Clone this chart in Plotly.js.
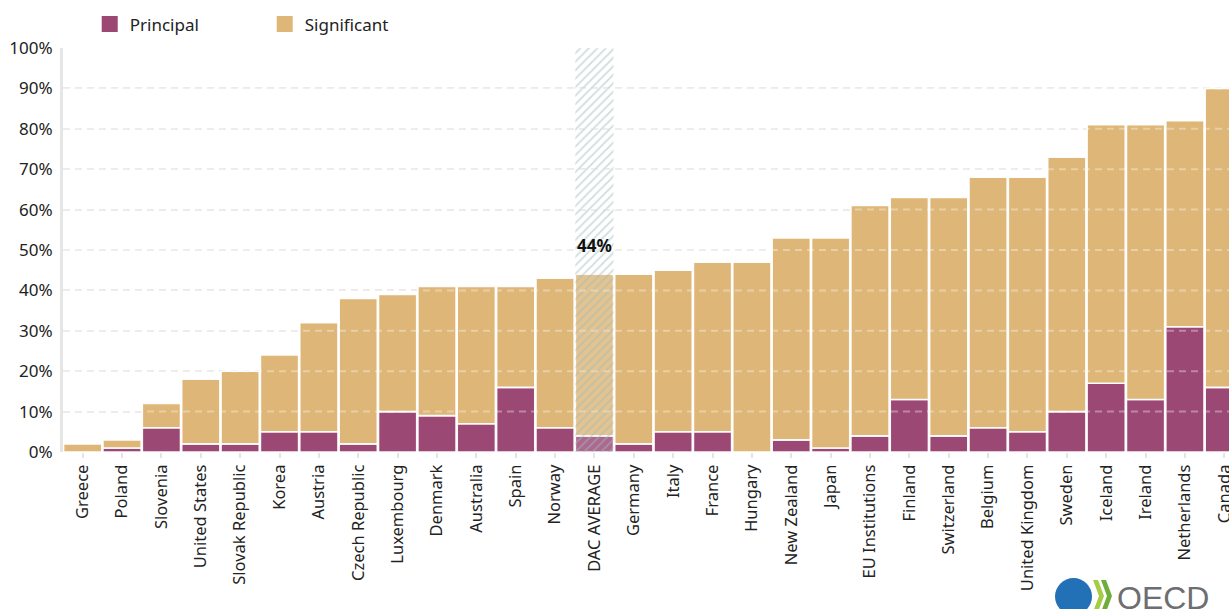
<!DOCTYPE html>
<html>
<head>
<meta charset="utf-8">
<script src="https://cdn.plot.ly/plotly-3.0.1.min.js"></script>
<style>
html,body{margin:0;padding:0;background:#fff;}
#chart{width:1229px;height:609px;}
</style>
</head>
<body>
<div id="chart"></div>
<script>
const categories = ["Greece","Poland","Slovenia","United States","Slovak Republic","Korea","Austria","Czech Republic","Luxembourg","Denmark","Australia","Spain","Norway","DAC AVERAGE","Germany","Italy","France","Hungary","New Zealand","Japan","EU Institutions","Finland","Switzerland","Belgium","United Kingdom","Sweden","Iceland","Ireland","Netherlands","Canada"];
const principal = [0,1,6,2,2,5,5,2,10,9,7,16,6,4,2,5,5,0,3,1,4,13,4,6,5,10,17,13,31,16];
const significant = [2,2,6,16,18,19,27,36,29,32,34,25,37,40,42,40,42,47,50,52,57,50,59,62,63,63,64,68,51,74];
const highlightCategory = "DAC AVERAGE";
const highlightLabel = "44%";
const highlightSpan = [100];
const yTicks = [0,10,20,30,40,50,60,70,80,90,100];
const yTickLabels = ["0%","10%","20%","30%","40%","50%","60%","70%","80%","90%","100%"];

const FONT = "'Noto Sans', Lato, sans-serif";
const PURPLE = "#9b4875";
const TAN = "#deb677";
const opac = categories.map(c => c === highlightCategory ? 0.82 : 1);

const traces = [
  {
    type: "bar", name: "Principal", x: categories, y: principal, showlegend: false, legendgroup: "p",
    marker: {color: PURPLE, opacity: opac, line: {color: "rgba(255,255,255,0.95)", width: 1.6}},
    hoverinfo: "x+y"
  },
  {
    type: "bar", name: "Significant", x: categories, y: significant, base: principal, showlegend: false, legendgroup: "s",
    marker: {color: TAN, opacity: opac, line: {color: "rgba(255,255,255,0.95)", width: 1.6}},
    hoverinfo: "x+y"
  },
  {
    type: "bar", name: "hatch", x: [highlightCategory], y: highlightSpan, showlegend: false,
    hoverinfo: "skip",
    marker: {color: "rgba(0,0,0,0)", line: {width: 0},
      pattern: {shape: "/", fgcolor: "#9ebcbc", bgcolor: "rgba(0,0,0,0)", size: 6, solidity: 0.3, fillmode: "overlay"}}
  },
  {
    type: "scatter", mode: "markers", name: "Principal", x: [null], y: [null], legendgroup: "p",
    marker: {symbol: "square", size: 18, color: PURPLE}, hoverinfo: "skip"
  },
  {
    type: "scatter", mode: "markers", name: "Significant", x: [null], y: [null], legendgroup: "s",
    marker: {symbol: "square", size: 18, color: TAN}, hoverinfo: "skip"
  }
];

const shapes = yTicks.filter(v => v > 0).map(v => ({
  type: "line", xref: "paper", yref: "y", x0: 0, x1: 1, y0: v, y1: v,
  layer: "above", line: {color: "rgba(255,255,255,0.35)", width: 2, dash: "7px,5px"}
}));
// OECD logo: globe + chevrons
shapes.push({
  type: "circle", xref: "paper", yref: "paper", xsizemode: "pixel", ysizemode: "pixel",
  xanchor: (1073.5-63)/1166, yanchor: (452-596.5)/404, x0: -18.5, x1: 18.5, y0: -18.5, y1: 18.5,
  fillcolor: "#2270b5", line: {width: 0}, layer: "above"
});
shapes.push({
  type: "path", xref: "paper", yref: "paper", xsizemode: "pixel", ysizemode: "pixel",
  xanchor: (1093-63)/1166, yanchor: (452-609)/404,
  path: "M0,29 L5,29 L11,13 L5,-3 L0,-3 L6,13 Z",
  fillcolor: "#a5cc45", line: {width: 0}, layer: "above"
});
shapes.push({
  type: "path", xref: "paper", yref: "paper", xsizemode: "pixel", ysizemode: "pixel",
  xanchor: (1093-63)/1166, yanchor: (452-609)/404,
  path: "M8,29 L13,29 L19,13 L13,-3 L8,-3 L14,13 Z",
  fillcolor: "#6fae3a", line: {width: 0}, layer: "above"
});

const layout = {
  width: 1229, height: 609,
  margin: {l: 63, r: 0, t: 48, b: 157},
  paper_bgcolor: "#fff", plot_bgcolor: "#fff",
  barmode: "overlay", bargap: 0.03,
  font: {family: FONT, color: "#222"},
  showlegend: true,
  legend: {
    orientation: "h", xref: "container", yref: "container",
    x: 0.073, xanchor: "left", y: 0.96, yanchor: "middle",
    font: {size: 17, color: "#222"}, entrywidth: 130, entrywidthmode: "pixels",
    traceorder: "normal", itemclick: false, itemsizing: "trace"
  },
  xaxis: {
    type: "category", categoryorder: "array", categoryarray: categories,
    range: [-0.5, 29.12],
    tickangle: -90, tickfont: {size: 16.5, color: "#222"},
    ticks: "outside", ticklen: 5, tickwidth: 2, tickcolor: "#e4e4e4",
    showline: false, showgrid: false, zeroline: false, fixedrange: true
  },
  yaxis: {
    range: [0, 100], tickmode: "array", tickvals: yTicks, ticktext: yTickLabels,
    tickfont: {size: 17, color: "#222"},
    showgrid: true, gridcolor: "#ebe4e4", gridwidth: 2, griddash: "7px,5px",
    showline: true, linecolor: "#e6e6e6", linewidth: 3,
    zeroline: false, ticks: "", ticklabelstandoff: 4, fixedrange: true
  },
  shapes: shapes,
  annotations: [
    {x: highlightCategory, y: 51, xref: "x", yref: "y", text: "<b>" + highlightLabel + "</b>",
     showarrow: false, font: {size: 17, color: "#111", family: FONT}, yanchor: "middle"},
    {xref: "paper", yref: "paper", x: (1115-63)/1166, y: (452-598)/404, xanchor: "left", yanchor: "middle",
     text: "OECD", showarrow: false, font: {size: 32, color: "#6d6e71", family: "'Liberation Sans', Arial, sans-serif"}}
  ]
};

Plotly.newPlot("chart", traces, layout, {displayModeBar: false, staticPlot: true});
</script>
</body>
</html>
